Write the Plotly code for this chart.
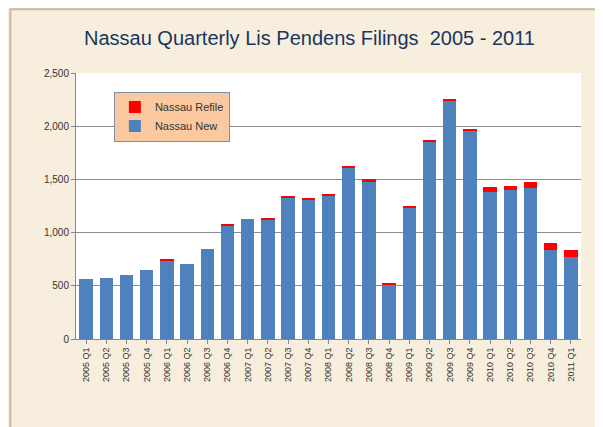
import plotly.graph_objects as go

quarters = [f"{y} Q{q}" for y in range(2005, 2011) for q in range(1, 5)] + ["2011 Q1"]
nassau_new = [560, 570, 598, 645, 740, 703, 845, 1065, 1130, 1120, 1330, 1315, 1345, 1610,
              1480, 515, 1235, 1855, 2240, 1956, 1377, 1396, 1415, 835, 769]
nassau_refile = [0, 0, 0, 0, 15, 0, 0, 8, 0, 10, 9, 12, 12, 13,
                 20, 7, 9, 15, 19, 19, 47, 41, 57, 70, 66]

fig = go.Figure()
fig.add_trace(go.Bar(x=quarters, y=nassau_new, name="Nassau New",
                     marker=dict(color="#4F81BD", line=dict(width=0))))
fig.add_trace(go.Bar(x=quarters, y=nassau_refile, name="Nassau Refile",
                     marker=dict(color="#FF0000", line=dict(width=0))))

fig.update_layout(
    width=603, height=427,
    barmode="stack", bargap=0.33,
    paper_bgcolor="#F7EEDD",
    plot_bgcolor="white",
    margin=dict(l=68, r=30, t=65, b=96),
    title=dict(text="Nassau Quarterly Lis Pendens Filings  2005 - 2011",
               x=0.5, xanchor="center", y=0.93, yanchor="middle",
               font=dict(family="Liberation Sans, Arial", size=20, color="#17375E")),
    xaxis=dict(tickangle=-90, tickfont=dict(family="Arial", size=9, color="#333"),
               showline=True, linecolor="#888", ticks="outside", ticklen=4,
               tickcolor="#888"),
    yaxis=dict(range=[0, 2500], dtick=500, tickformat=",",
               tickfont=dict(family="Arial", size=10, color="#333"),
               gridcolor="#8C8C8C", showline=True, linecolor="#888",
               ticks="outside", ticklen=4, tickcolor="#888"),
    legend=dict(x=0.075, y=0.93, xanchor="left", yanchor="top",
                traceorder="reversed", bgcolor="#FAC9A0",
                bordercolor="#7F8FA9", borderwidth=1,
                font=dict(family="Arial", size=11, color="#333"),
                itemwidth=30, tracegroupgap=12),
    shapes=[dict(type="rect", xref="paper", yref="paper", x0=-0.13, y0=-0.355,
                 x1=1.055, y1=1.24, line=dict(color="#C9B99A", width=2),
                 fillcolor="rgba(0,0,0,0)", layer="below")],
)

fig.write_html("out.html")
